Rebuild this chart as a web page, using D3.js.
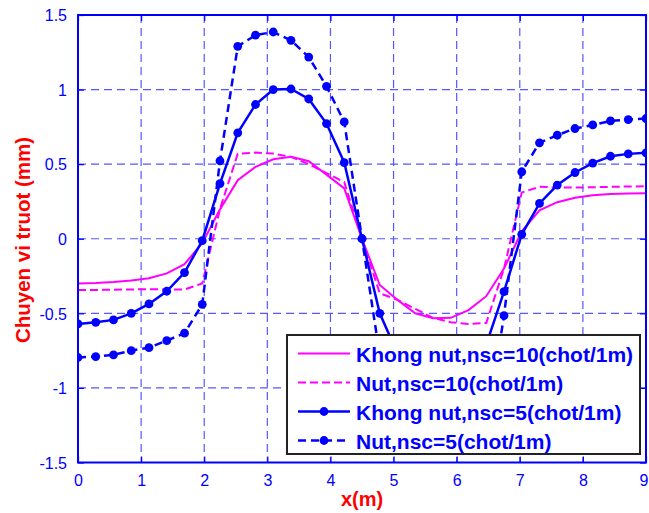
<!DOCTYPE html>
<html><head><meta charset="utf-8">
<script src="https://cdn.jsdelivr.net/npm/d3@7/dist/d3.min.js"></script>
<style>body{margin:0;background:#fff}svg{display:block}</style>
</head><body>
<script>
// x positions (m): 33 stations, step 9/32
const xs = [0,0.28125,0.5625,0.84375,1.125,1.40625,1.6875,1.96875,2.25,2.53125,2.8125,3.09375,3.375,3.65625,3.9375,4.21875,4.5,4.78125,5.0625,5.34375,5.625,5.90625,6.1875,6.46875,6.75,7.03125,7.3125,7.59375,7.875,8.15625,8.4375,8.71875,9];
const khongNut10 = [-0.30,-0.297,-0.29,-0.28,-0.265,-0.232,-0.17,-0.03,0.197,0.393,0.482,0.533,0.549,0.52,0.43,0.337,0,-0.31,-0.41,-0.50,-0.533,-0.53,-0.478,-0.385,-0.20,0.05,0.19,0.245,0.275,0.292,0.30,0.303,0.305];
const nut10 = [-0.343,-0.343,-0.342,-0.34,-0.338,-0.34,-0.34,-0.30,0.20,0.57,0.578,0.571,0.549,0.50,0.44,0.38,0,-0.365,-0.41,-0.47,-0.53,-0.56,-0.571,-0.565,-0.20,0.31,0.348,0.345,0.343,0.345,0.348,0.35,0.352];
const khongNut5 = [-0.571,-0.56,-0.544,-0.50,-0.437,-0.352,-0.227,-0.013,0.37,0.71,0.90,1.0,1.004,0.937,0.772,0.511,0,-0.50,-0.77,-0.94,-1.0,-1.0,-0.90,-0.71,-0.355,0.03,0.237,0.36,0.444,0.507,0.553,0.569,0.576];
const nut5 = [-0.796,-0.79,-0.778,-0.75,-0.73,-0.683,-0.633,-0.44,0.522,1.29,1.365,1.386,1.33,1.218,1.022,0.783,0,-0.78,-1.02,-1.22,-1.33,-1.38,-1.36,-1.29,-0.515,0.449,0.643,0.694,0.739,0.763,0.79,0.799,0.806];
const xTicks = [0,1,2,3,4,5,6,7,8,9];
const yTicks = [-1.5,-1,-0.5,0,0.5,1,1.5];
const seriesNames = ["Khong nut,nsc=10(chot/1m)","Nut,nsc=10(chot/1m)","Khong nut,nsc=5(chot/1m)","Nut,nsc=5(chot/1m)"];
const xTitle = "x(m)";
const yTitle = "Chuyen vi truot (mm)";

const W = 649, H = 513;
const L = 78, R = 646, T = 15, B = 462.5;
const svg = d3.select("body").append("svg").attr("width", W).attr("height", H);
const x = d3.scaleLinear().domain([0, 9]).range([L, R]);
const y = d3.scaleLinear().domain([-1.5, 1.5]).range([B, T]);

// grid
const grid = svg.append("g").attr("stroke", "#3a3aff").attr("stroke-width", 1.2).attr("stroke-dasharray", "8,5").attr("opacity", 0.85);
xTicks.slice(1, -1).forEach(t => grid.append("line").attr("x1", x(t)).attr("x2", x(t)).attr("y1", T).attr("y2", B));
yTicks.slice(1, -1).forEach(t => grid.append("line").attr("x1", L).attr("x2", R).attr("y1", y(t)).attr("y2", y(t)));

// axes with d3 axis (ticks inward)
const fontTick = "16px 'Liberation Sans', Arial, sans-serif";
const ax = svg.append("g").attr("transform", `translate(0,${B})`).call(d3.axisBottom(x).tickValues(xTicks).tickSize(-6).tickPadding(12).tickFormat(d3.format("d")));
const ay = svg.append("g").attr("transform", `translate(${L},0)`).call(d3.axisLeft(y).tickValues(yTicks).tickSize(-6).tickPadding(11).tickFormat(d => String(d)));
const at = svg.append("g").attr("transform", `translate(0,${T})`).call(d3.axisTop(x).tickValues(xTicks).tickSize(-6).tickFormat(""));
const ar = svg.append("g").attr("transform", `translate(${R},0)`).call(d3.axisRight(y).tickValues(yTicks).tickSize(-6).tickFormat(""));
[ax, ay, at, ar].forEach(g => {
  g.select(".domain").remove();
  g.selectAll("line").attr("stroke", "#0000ff").attr("stroke-width", 1.2);
  g.selectAll("text").attr("fill", "#0000ff").style("font", fontTick);
});
ay.selectAll("text").attr("dy", "0.36em");
ax.selectAll("text").attr("dy", "0.71em");
// keep the last x label inside the page
ax.selectAll("text").filter(d => d === 9).attr("text-anchor", "end").attr("x", 648 - R);

// lines
const line = d3.line().x((d, i) => x(xs[i])).y(d => y(d));
svg.append("clipPath").attr("id", "clip").append("rect").attr("x", L).attr("y", T).attr("width", R - L).attr("height", B - T);
const plot = svg.append("g").attr("clip-path", "url(#clip)");
const styles = [
  {data: khongNut10, color: "#ff00ff", dash: null, w: 2, marker: false},
  {data: nut10, color: "#ff00ff", dash: "8,4", w: 2, marker: false},
  {data: khongNut5, color: "#0000ff", dash: null, w: 2.5, marker: true},
  {data: nut5, color: "#0000ff", dash: "8,5", w: 2.5, marker: true}
];
styles.forEach(s => {
  plot.append("path").attr("d", line(s.data)).attr("fill", "none").attr("stroke", s.color)
    .attr("stroke-width", s.w).attr("stroke-dasharray", s.dash);
  if (s.marker) {
    plot.selectAll(null).data(s.data).enter().append("circle")
      .attr("cx", (d, i) => x(xs[i])).attr("cy", d => y(d)).attr("r", 4.4).attr("fill", s.color);
  }
});

// box
svg.append("rect").attr("x", L).attr("y", T).attr("width", R - L).attr("height", B - T)
  .attr("fill", "none").attr("stroke", "#0000ff").attr("stroke-width", 2);

// titles
svg.append("text").attr("x", (L + R) / 2).attr("y", 506).attr("text-anchor", "middle")
  .attr("fill", "#ff0000").style("font", "bold 20px 'Liberation Sans', Arial, sans-serif").text(xTitle);
svg.append("text").attr("transform", `translate(30,240) rotate(-90)`).attr("text-anchor", "middle")
  .attr("fill", "#ff0000").style("font", "bold 20.5px 'Liberation Sans', Arial, sans-serif").text(yTitle);

// legend
const lg = svg.append("g");
lg.append("rect").attr("x", 287).attr("y", 335).attr("width", 353).attr("height", 119)
  .attr("fill", "#fff").attr("stroke", "#222").attr("stroke-width", 2);
const rowY = [353.5, 382.5, 411.5, 440.5];
styles.forEach((s, i) => {
  lg.append("line").attr("x1", 298).attr("x2", 350).attr("y1", rowY[i]).attr("y2", rowY[i])
    .attr("stroke", s.color).attr("stroke-width", s.w).attr("stroke-dasharray", s.dash);
  if (s.marker) lg.append("circle").attr("cx", 324).attr("cy", rowY[i]).attr("r", 4.4).attr("fill", s.color);
  lg.append("text").attr("x", 356).attr("y", rowY[i] + 8).attr("fill", "#0000ff")
    .style("font", "bold 21px 'Liberation Sans', Arial, sans-serif").text(seriesNames[i]);
});
</script>
</body></html>
